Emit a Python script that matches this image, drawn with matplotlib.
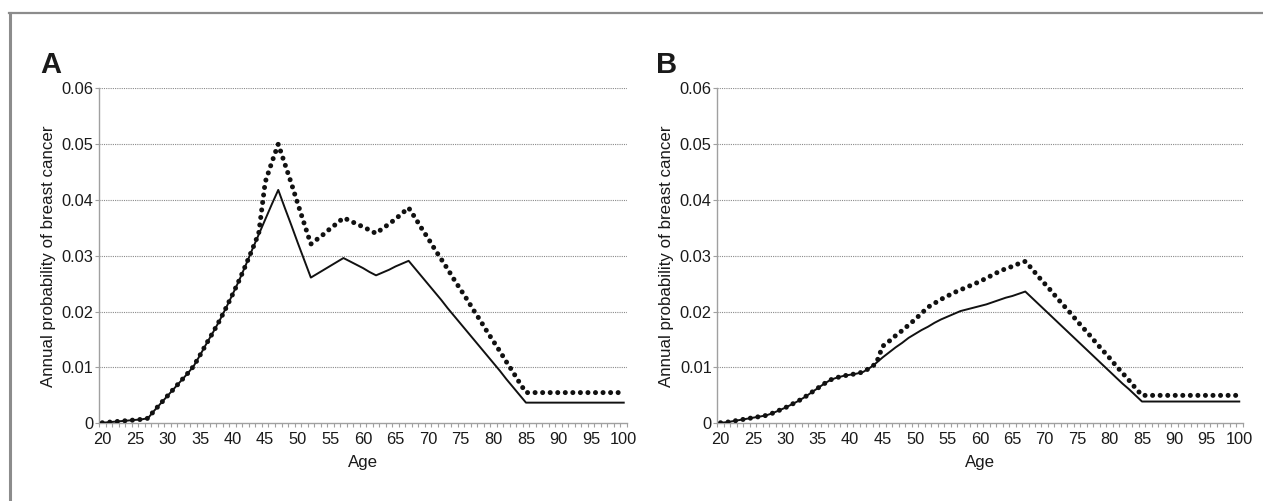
import matplotlib
matplotlib.use("Agg")
import matplotlib.pyplot as plt
from matplotlib.lines import Line2D

plt.rcParams['font.family'] = ['Liberation Sans', 'DejaVu Sans']

# ages 20..100 (one category per year)
ages = list(range(20, 101))

# panel A
a_solid = [0.0001, 0.0002, 0.0003, 0.0004, 0.0005, 0.0006, 0.0007, 0.0009, 0.0023, 0.0036,
           0.0049, 0.0062, 0.0075, 0.0088, 0.0102, 0.0122, 0.0143, 0.0163, 0.0184, 0.0207,
           0.0231, 0.0256, 0.0283, 0.0311, 0.0338, 0.0365, 0.0392, 0.0418, 0.0386, 0.0355,
           0.0323, 0.0292, 0.0261, 0.0268, 0.0275, 0.0282, 0.0289, 0.0296, 0.0290, 0.0284,
           0.0278, 0.0271, 0.0265, 0.0270, 0.0275, 0.0281, 0.0286, 0.0291, 0.0277, 0.0263,
           0.0249, 0.0235, 0.0221, 0.0206, 0.0192, 0.0178, 0.0164, 0.0150, 0.0136, 0.0122,
           0.0108, 0.0094, 0.0079, 0.0065, 0.0051, 0.0037, 0.0037, 0.0037, 0.0037, 0.0037,
           0.0037, 0.0037, 0.0037, 0.0037, 0.0037, 0.0037, 0.0037, 0.0037, 0.0037, 0.0037,
           0.0037]
a_dotted = [0.0001, 0.0002, 0.0003, 0.0004, 0.0005, 0.0006, 0.0007, 0.0009, 0.0023, 0.0036,
            0.0049, 0.0062, 0.0075, 0.0088, 0.0102, 0.0122, 0.0143, 0.0163, 0.0184, 0.0207,
            0.0231, 0.0256, 0.0283, 0.0311, 0.0340, 0.0432, 0.0467, 0.0500, 0.0465, 0.0430,
            0.0393, 0.0357, 0.0321, 0.0330, 0.0339, 0.0349, 0.0358, 0.0368, 0.0363, 0.0357,
            0.0352, 0.0346, 0.0340, 0.0349, 0.0357, 0.0366, 0.0376, 0.0386, 0.0368, 0.0349,
            0.0331, 0.0312, 0.0294, 0.0276, 0.0257, 0.0239, 0.0221, 0.0202, 0.0184, 0.0165,
            0.0147, 0.0129, 0.0110, 0.0092, 0.0073, 0.0055, 0.0055, 0.0055, 0.0055, 0.0055,
            0.0055, 0.0055, 0.0055, 0.0055, 0.0055, 0.0055, 0.0055, 0.0055, 0.0055, 0.0055,
            0.0055]

# panel B
b_solid = [0.0001, 0.0002, 0.0004, 0.0006, 0.0008, 0.0010, 0.0012, 0.0014, 0.0018, 0.0023,
           0.0028, 0.0034, 0.0040, 0.0047, 0.0055, 0.0063, 0.0071, 0.0078, 0.0082, 0.0085,
           0.0087, 0.0089, 0.0092, 0.0099, 0.0108, 0.0118, 0.0127, 0.0136, 0.0144, 0.0153,
           0.0160, 0.0167, 0.0173, 0.0180, 0.0186, 0.0191, 0.0196, 0.0201, 0.0204, 0.0207,
           0.0210, 0.0213, 0.0217, 0.0221, 0.0225, 0.0228, 0.0232, 0.0236, 0.0225, 0.0214,
           0.0203, 0.0192, 0.0181, 0.0170, 0.0159, 0.0148, 0.0137, 0.0126, 0.0115, 0.0104,
           0.0093, 0.0082, 0.0071, 0.0061, 0.0050, 0.0039, 0.0039, 0.0039, 0.0039, 0.0039,
           0.0039, 0.0039, 0.0039, 0.0039, 0.0039, 0.0039, 0.0039, 0.0039, 0.0039, 0.0039,
           0.0039]
b_dotted = [0.0001, 0.0002, 0.0004, 0.0006, 0.0008, 0.0010, 0.0012, 0.0014, 0.0018, 0.0023,
            0.0028, 0.0034, 0.0040, 0.0047, 0.0055, 0.0063, 0.0071, 0.0078, 0.0082, 0.0085,
            0.0087, 0.0089, 0.0092, 0.0099, 0.0107, 0.0138, 0.0147, 0.0157, 0.0166, 0.0176,
            0.0186, 0.0197, 0.0208, 0.0215, 0.0222, 0.0228, 0.0234, 0.0239, 0.0244, 0.0249,
            0.0254, 0.0260, 0.0266, 0.0272, 0.0277, 0.0281, 0.0286, 0.0290, 0.0277, 0.0263,
            0.0250, 0.0237, 0.0223, 0.0210, 0.0197, 0.0183, 0.0170, 0.0157, 0.0143, 0.0130,
            0.0117, 0.0103, 0.0090, 0.0077, 0.0063, 0.0050, 0.0050, 0.0050, 0.0050, 0.0050,
            0.0050, 0.0050, 0.0050, 0.0050, 0.0050, 0.0050, 0.0050, 0.0050, 0.0050, 0.0050,
            0.0050]

y_ticks = [0, 0.01, 0.02, 0.03, 0.04, 0.05, 0.06]
y_labels = ['0', '0.01', '0.02', '0.03', '0.04', '0.05', '0.06']
x_ticks = [20, 25, 30, 35, 40, 45, 50, 55, 60, 65, 70, 75, 80, 85, 90, 95, 100]
panel_letters = ['A', 'B']

W, H = 1263, 501
fig = plt.figure(figsize=(W / 100, H / 100), dpi=100)

# grey frame (top and left only)
fig.add_artist(Line2D([9 / W, 1], [1 - 12.5 / H, 1 - 12.5 / H], transform=fig.transFigure,
                      color='#8c8c8c', lw=1.6))
fig.add_artist(Line2D([10 / W, 10 / W], [0, 1 - 12.5 / H], transform=fig.transFigure,
                      color='#8c8c8c', lw=2.2))

boxes = [(99, 528), (717.3, 525.2)]
series = [(a_solid, a_dotted), (b_solid, b_dotted)]
letter_x = [40, 656]

for i, ((left, width), (solid, dotted)) in enumerate(zip(boxes, series)):
    ax = fig.add_axes([left / W, (H - 423.3) / H, width / W, 335 / H])
    ax.set_xlim(19.5, 100.5)
    ax.set_ylim(0, 0.06)
    ax.set_yticks(y_ticks)
    ax.set_yticklabels(y_labels)
    ax.set_xticks(x_ticks)
    ax.set_xticks([a - 0.5 for a in ages] + [100.5], minor=True)
    for y in y_ticks[1:]:
        ax.axhline(y, color='#8a8a8a', lw=0.8, ls=(0, (1, 1)), zorder=1)
    ax.plot(ages, solid, color='#111111', lw=1.4, zorder=3)
    ax.plot(ages, dotted, color='#111111', lw=3.6, ls=(0, (0.01, 1.5)),
            dash_capstyle='round', zorder=4)
    for s in ['top', 'right']:
        ax.spines[s].set_visible(False)
    for s in ['left', 'bottom']:
        ax.spines[s].set_color('#a0a0a0')
        ax.spines[s].set_linewidth(1.0)
    ax.tick_params(axis='x', which='major', length=0, pad=6, labelsize=11.8, colors='#1a1a1a')
    ax.tick_params(axis='x', which='minor', length=3, width=0.8, color='#a0a0a0', direction='out')
    ax.tick_params(axis='y', length=3, width=0.8, color='#a0a0a0', pad=1, labelsize=11.8,
                   labelcolor='#1a1a1a')
    ax.set_xlabel('Age', fontsize=12.2, color='#1a1a1a', labelpad=6)
    ax.set_ylabel('Annual probability of breast cancer', fontsize=12.2, color='#1a1a1a', labelpad=4)
    fig.text(letter_x[i] / W, (H - 73) / H, panel_letters[i], fontsize=21, fontweight='bold',
             ha='left', va='baseline', color='#1a1a1a')

fig.savefig('out.png', dpi=100)
